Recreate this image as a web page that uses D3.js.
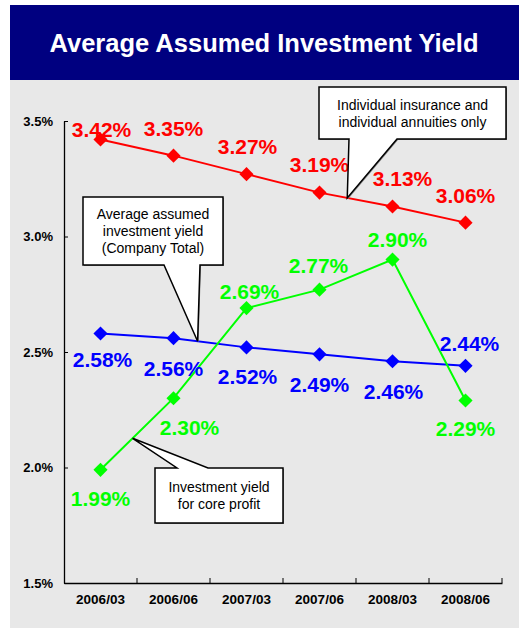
<!DOCTYPE html>
<html>
<head>
<meta charset="utf-8">
<script src="https://cdn.jsdelivr.net/npm/d3@7"></script>
<style>
  html, body { margin: 0; padding: 0; background: #ffffff; }
  svg { display: block; font-family: "Liberation Sans", Arial, sans-serif; }
</style>
</head>
<body>
<svg id="chart" width="519" height="630"></svg>
<script>
// Periods on the x axis
const periods = ["2006/03", "2006/06", "2007/03", "2007/06", "2008/03", "2008/06"];

// Yields in percent
const individualYield = [3.42, 3.35, 3.27, 3.19, 3.13, 3.06];
const companyYield    = [2.58, 2.56, 2.52, 2.49, 2.46, 2.44];
const coreProfitYield = [1.99, 2.30, 2.69, 2.77, 2.90, 2.29];

// Y axis ticks
const yTicks = [1.5, 2.0, 2.5, 3.0, 3.5];

// Value-label placement relative to each point (px)
const individualLabelOffset = [[1, -10], [0, -27], [1, -28], [0, -28], [10, -28], [0, -27]];
const companyLabelOffset    = [[2, 26], [0, 30], [1, 29], [0, 30], [1, 30], [4, -22]];
const coreLabelOffset       = [[0, 29], [16, 29], [3, -17], [-1, -24], [5, -20], [0, 28]];

const FONT = "'Liberation Sans', Arial, sans-serif";
const svg = d3.select("#chart");

// Title band
svg.append("rect").attr("x", 10).attr("y", 5).attr("width", 509).attr("height", 75).attr("fill", "#000080");
svg.append("text")
  .attr("x", 264).attr("y", 52)
  .attr("text-anchor", "middle")
  .attr("fill", "#ffffff")
  .attr("font-family", FONT)
  .attr("font-weight", "bold")
  .attr("font-size", 25.5)
  .text("Average Assumed Investment Yield");

// Chart panel
svg.append("rect").attr("x", 10).attr("y", 80).attr("width", 509).attr("height", 548).attr("fill", "#e8e8e8");

const x = d3.scaleBand().domain(periods).range([64, 502]);
const y = d3.scaleLinear().domain([1.5, 3.5]).range([583, 121]);
const cx = d => x(d) + x.bandwidth() / 2;

// Axes
const yAxis = svg.append("g").attr("transform", "translate(64,0)")
  .call(d3.axisLeft(y).tickValues(yTicks).tickFormat(d => d.toFixed(1) + "%").tickSizeInner(-4).tickSizeOuter(0).tickPadding(11));
const xAxis = svg.append("g").attr("transform", "translate(0,583)")
  .call(d3.axisBottom(x).tickSizeInner(0).tickSizeOuter(0).tickPadding(11));

// Category boundary ticks on the x axis (pointing inward)
svg.append("g").selectAll("line")
  .data(periods)
  .join("line")
  .attr("x1", d => x(d) + x.bandwidth()).attr("x2", d => x(d) + x.bandwidth())
  .attr("y1", 583).attr("y2", 578)
  .attr("stroke", "#000").attr("stroke-width", 1);

[yAxis, xAxis].forEach(g => {
  g.select(".domain").attr("stroke", "#000").attr("stroke-width", 1.3);
  g.selectAll(".tick line").attr("stroke", "#000");
  g.selectAll(".tick text")
    .attr("fill", "#000")
    .attr("font-weight", "bold")
    .attr("font-family", FONT);
});
yAxis.selectAll(".tick text").attr("font-size", 13);
xAxis.selectAll(".tick text").attr("font-size", 13.5);

const series = [
  { values: individualYield, color: "#ff0000", offsets: individualLabelOffset },
  { values: companyYield,    color: "#0000ff", offsets: companyLabelOffset },
  { values: coreProfitYield, color: "#00ff00", offsets: coreLabelOffset }
];

const line = d3.line().x((d, i) => cx(periods[i])).y(d => y(d));

series.forEach(s => {
  svg.append("path")
    .attr("d", line(s.values))
    .attr("fill", "none")
    .attr("stroke", s.color)
    .attr("stroke-width", 2);
  svg.append("g").selectAll("path")
    .data(s.values)
    .join("path")
    .attr("d", d3.symbol().type(d3.symbolSquare).size(100)())
    .attr("transform", (d, i) => `translate(${cx(periods[i])},${y(d)}) rotate(45)`)
    .attr("fill", s.color);
});

// Value labels
series.forEach(s => {
  svg.append("g").selectAll("text")
    .data(s.values)
    .join("text")
    .attr("x", (d, i) => cx(periods[i]) + s.offsets[i][0])
    .attr("y", (d, i) => y(d) + s.offsets[i][1] + 7.5)
    .attr("text-anchor", "middle")
    .attr("fill", s.color)
    .attr("font-family", FONT)
    .attr("font-weight", "bold")
    .attr("font-size", 21)
    .text(d => d.toFixed(2) + "%");
});

// Callouts: a box with a wedge pointing at a spot on a series line
function pointOn(values, i, t) {
  const x0 = cx(periods[i]), x1 = cx(periods[i + 1]);
  return [x0 + (x1 - x0) * t, y(values[i] + (values[i + 1] - values[i]) * t)];
}

function callout(box, base, tip, lines, side) {
  const [bx0, by0, bx1, by1] = box;
  const p = d3.path();
  if (side === "bottom") {
    p.moveTo(bx0, by0); p.lineTo(bx1, by0); p.lineTo(bx1, by1);
    p.lineTo(base[1], by1); p.lineTo(tip[0], tip[1]); p.lineTo(base[0], by1);
    p.lineTo(bx0, by1); p.closePath();
  } else {
    p.moveTo(bx0, by0); p.lineTo(base[0], by0); p.lineTo(tip[0], tip[1]); p.lineTo(base[1], by0);
    p.lineTo(bx1, by0); p.lineTo(bx1, by1); p.lineTo(bx0, by1); p.closePath();
  }
  const g = svg.append("g");
  g.append("path").attr("d", p.toString()).attr("fill", "#808080").attr("transform", "translate(1,1)");
  g.append("path").attr("d", p.toString()).attr("fill", "#ffffff").attr("stroke", "#000").attr("stroke-width", 1.5).attr("stroke-linejoin", "miter");
  const midX = (bx0 + bx1) / 2, midY = (by0 + by1) / 2;
  const lh = 17;
  lines.forEach((t, k) => {
    g.append("text")
      .attr("x", midX)
      .attr("y", midY + (k - (lines.length - 1) / 2) * lh + 5)
      .attr("text-anchor", "middle")
      .attr("fill", "#000")
      .attr("font-family", FONT)
      .attr("font-size", 14)
      .text(t);
  });
}

callout([83, 197, 223, 265], [164, 200], pointOn(companyYield, 1, 0.33),
  ["Average assumed", "investment yield", "(Company Total)"], "bottom");
callout([319, 87, 506, 139], [349, 397], pointOn(individualYield, 3, 0.38),
  ["Individual insurance and", "individual annuities only"], "bottom");
callout([155, 468, 283, 523], [177, 208], pointOn(coreProfitYield, 0, 0.44),
  ["Investment yield", "for core profit"], "top");
</script>
</body>
</html>
